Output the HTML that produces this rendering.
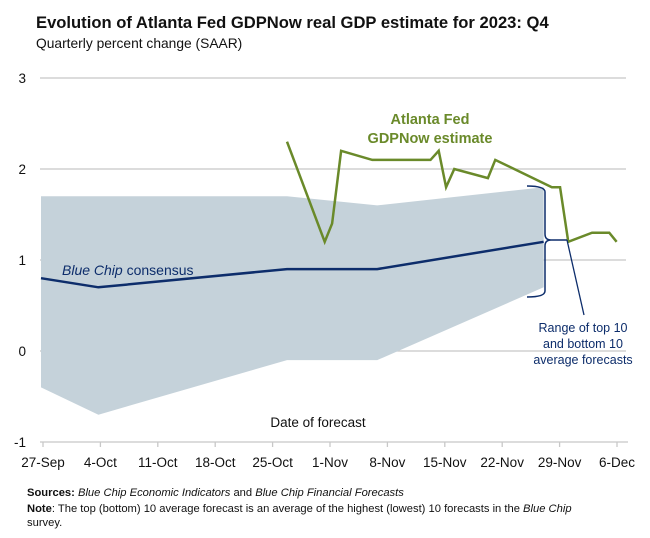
<!DOCTYPE html>
<html><head><meta charset="utf-8"><style>
body{margin:0;background:#fff;font-family:"Liberation Sans",Arial,sans-serif}
svg text{font-family:"Liberation Sans",Arial,sans-serif}
</style></head><body>
<svg id="chart" width="650" height="533" viewBox="0 0 650 533" xmlns="http://www.w3.org/2000/svg">
<text x="36" y="28" font-size="16.6" font-weight="bold" fill="#111">Evolution of Atlanta Fed GDPNow real GDP estimate for 2023: Q4</text>
<text x="36" y="48" font-size="13.8" fill="#111">Quarterly percent change (SAAR)</text>
<g id="grid"></g>
<g id="band"></g>
<g id="series"></g>
<g id="axes"></g>
<text x="318" y="427" font-size="13.5" fill="#111" text-anchor="middle">Date of forecast</text>
<text x="430" y="124" font-size="14.5" font-weight="bold" fill="#6a8a2a" text-anchor="middle">Atlanta Fed</text>
<text x="430" y="143" font-size="14.5" font-weight="bold" fill="#6a8a2a" text-anchor="middle">GDPNow estimate</text>
<text x="62" y="275" font-size="14" fill="#0d2d6b"><tspan font-style="italic">Blue Chip</tspan> consensus</text>
<path d="M527,186 Q545,186 545,192 L545,234 Q545,240 551,240 L567,240 M551,240 Q545,240 545,246 L545,291 Q545,297 527,297" fill="none" stroke="#0d2d6b" stroke-width="1.5"/>
<line x1="567" y1="240" x2="584" y2="315" stroke="#0d2d6b" stroke-width="1.3"/>
<g font-size="12.5" fill="#0d2d6b" text-anchor="middle">
<text x="583" y="332">Range of top 10</text>
<text x="583" y="348">and bottom 10</text>
<text x="583" y="364">average forecasts</text>
</g>
<g font-size="11.2" fill="#111">
<text x="27" y="496"><tspan font-weight="bold">Sources:</tspan> <tspan font-style="italic">Blue Chip Economic Indicators</tspan> and <tspan font-style="italic">Blue Chip Financial Forecasts</tspan></text>
<text x="27" y="512"><tspan font-weight="bold">Note</tspan>: The top (bottom) 10 average forecast is an average of the highest (lowest) 10 forecasts in the <tspan font-style="italic">Blue Chip</tspan></text>
<text x="27" y="526">survey.</text>
</g>
</svg>
<script>
const yTicks = [3, 2, 1, 0, -1];
const xTickLabels = ["27-Sep","4-Oct","11-Oct","18-Oct","25-Oct","1-Nov","8-Nov","15-Nov","22-Nov","29-Nov","6-Dec"];
// days since 27-Sep
const consensusDays = [0, 7, 30, 41, 61.3];
const consensusValues = [0.8, 0.7, 0.9, 0.9, 1.2];
const bandTop = [1.7, 1.7, 1.7, 1.6, 1.8];
const bandBottom = [-0.4, -0.7, -0.1, -0.1, 0.7];
const gdpDays = [30, 34.6, 35.5, 36.6, 40.4, 47.5, 48.5, 49.4, 50.4, 54.5, 55.4, 62.3, 63.3, 64.3, 67.2, 69.3, 70.2];
const gdpValues = [2.3, 1.2, 1.4, 2.2, 2.1, 2.1, 2.2, 1.8, 2.0, 1.9, 2.1, 1.8, 1.8, 1.2, 1.3, 1.3, 1.2];

const NS = "http://www.w3.org/2000/svg";
const x = d => 41 + d * 8.2;
const y = v => 351 - v * 91;
function mk(tag, attrs, parent){const e=document.createElementNS(NS,tag);for(const k in attrs)e.setAttribute(k,attrs[k]);parent.appendChild(e);return e;}
const grid=document.getElementById('grid'), axes=document.getElementById('axes'), band=document.getElementById('band'), series=document.getElementById('series');
yTicks.forEach(t=>{
  if(t!==-1){const l=mk('line',{x1:40,x2:626,y1:y(t),y2:y(t),stroke:'#c8c8c8','stroke-width':1.3},grid);
  
  }
  const tx=mk('text',{x:26,y:y(t)+5,'font-size':13.5,fill:'#111','text-anchor':'end'},axes);
  tx.textContent=t;
  
  
});
const ax=mk('line',{x1:40,x2:628,y1:y(-1),y2:y(-1),stroke:'#c8c8c8','stroke-width':1.3},axes);


xTickLabels.forEach((lab,i)=>{
  const px=x(i*7)+2;
  const tk=mk('line',{x1:px,x2:px,y1:y(-1),y2:y(-1)+5,stroke:'#c8c8c8','stroke-width':1.3},axes);
  
  
  const tx=mk('text',{x:px,y:467,'font-size':13.5,fill:'#111','text-anchor':'middle'},axes);
  tx.textContent=lab;
  
  
});
let pts=consensusDays.map((d,i)=>x(d)+','+y(bandTop[i]));
pts=pts.concat(consensusDays.map((d,i)=>x(d)+','+y(bandBottom[i])).reverse());
const bp=mk('polygon',{points:pts.join(' '),fill:'#c5d2da'},band);


const cl=mk('polyline',{points:consensusDays.map((d,i)=>x(d)+','+y(consensusValues[i])).join(' '),fill:'none',stroke:'#0d2d6b','stroke-width':2.5},series);


const gl=mk('polyline',{points:gdpDays.map((d,i)=>x(d)+','+y(gdpValues[i])).join(' '),fill:'none',stroke:'#6a8a2a','stroke-width':2.5},series);


</script>
</body></html>
